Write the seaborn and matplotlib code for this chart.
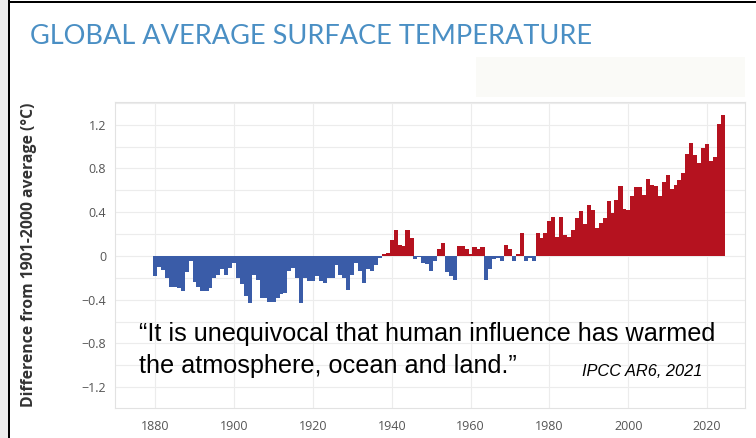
import numpy as np
import pandas as pd
import matplotlib
matplotlib.use("Agg")
import matplotlib.pyplot as plt
import seaborn as sns
from matplotlib.patches import Rectangle
from matplotlib.ticker import FixedLocator

# Annual global surface temperature anomaly (°C, relative to 1901-2000)
years = list(range(1880, 2025))
anomaly = [
    -0.18, -0.10, -0.13, -0.20, -0.28, -0.28, -0.29, -0.32, -0.15, -0.05,  # 1880s
    -0.24, -0.28, -0.32, -0.32, -0.29, -0.20, -0.17, -0.12, -0.17, -0.11,  # 1890s
    -0.06, -0.20, -0.26, -0.37, -0.43, -0.17, -0.22, -0.38, -0.38, -0.42,  # 1900s
    -0.42, -0.38, -0.35, -0.34, -0.14, -0.11, -0.20, -0.43, -0.20, -0.23,  # 1910s
    -0.23, -0.18, -0.23, -0.25, -0.20, -0.20, -0.08, -0.17, -0.20, -0.31,  # 1920s
    -0.17, -0.06, -0.14, -0.25, -0.12, -0.14, -0.08, -0.02, 0.02, 0.03,    # 1930s
    0.15, 0.24, 0.10, 0.09, 0.24, 0.16, -0.03, -0.01, -0.06, -0.07,       # 1940s
    -0.14, -0.05, 0.06, 0.12, -0.15, -0.18, -0.22, 0.09, 0.09, 0.06,      # 1950s
    0.02, 0.08, 0.06, 0.08, -0.22, -0.12, -0.03, -0.02, -0.05, 0.10,      # 1960s
    0.06, -0.05, 0.02, 0.21, -0.05, -0.02, -0.05, 0.21, 0.16, 0.21,       # 1970s
    0.32, 0.36, 0.17, 0.36, 0.19, 0.17, 0.24, 0.35, 0.41, 0.29,           # 1980s
    0.47, 0.42, 0.26, 0.30, 0.35, 0.50, 0.39, 0.51, 0.64, 0.43,           # 1990s
    0.42, 0.55, 0.63, 0.63, 0.56, 0.70, 0.65, 0.64, 0.55, 0.68,           # 2000s
    0.74, 0.61, 0.65, 0.69, 0.76, 0.93, 1.03, 0.92, 0.85, 0.99,           # 2010s
    1.02, 0.87, 0.90, 1.21, 1.29,                                         # 2020s
]

x_ticks = [1880, 1900, 1920, 1940, 1960, 1980, 2000, 2020]
y_ticks = [-1.2, -0.8, -0.4, 0.0, 0.4, 0.8, 1.2]
y_tick_labels = ["\u22121.2", "\u22120.8", "\u22120.4", "0", "0.4", "0.8", "1.2"]

title_text = "GLOBAL AVERAGE SURFACE TEMPERATURE"
y_label = "Difference from 1901-2000 average (\u00b0C)"
quote_line1 = "\u201cIt is unequivocal that human influence has warmed"
quote_line2 = "the atmosphere, ocean and land.\u201d"
source_text = "IPCC AR6, 2021"

BLUE = "#3a5ca8"
RED = "#b5121f"

df = pd.DataFrame({"year": years, "anomaly": anomaly})
df["sign"] = np.where(df["anomaly"] >= 0, "warm", "cool")

sns.set_theme(style="white")
plt.rcParams["font.family"] = ["Open Sans", "DejaVu Sans"]

W, H = 756, 438
fig = plt.figure(figsize=(W / 100, H / 100), dpi=100)
fig.patch.set_facecolor("white")

# outer frame: grey strip at left, black border lines
fig.add_artist(Rectangle((0, 0), 8 / W, 1, transform=fig.transFigure,
                         facecolor="#ececec", edgecolor="none", zorder=0))
fig.add_artist(Rectangle((8 / W, 0), 2 / W, 1, transform=fig.transFigure,
                         facecolor="black", edgecolor="none", zorder=5))
fig.add_artist(Rectangle((8 / W, 1 - 3 / H), 1, 2 / H, transform=fig.transFigure,
                         facecolor="black", edgecolor="none", zorder=5))

ax_l, ax_r, ax_t, ax_b = 114.6, 745.0, 101.7, 408.0
ax = fig.add_axes([ax_l / W, 1 - ax_b / H, (ax_r - ax_l) / W, (ax_b - ax_t) / H])

sns.barplot(data=df, x="year", y="anomaly", hue="sign",
            palette={"cool": BLUE, "warm": RED}, native_scale=True,
            width=1.0, dodge=False, legend=False, saturation=1,
            linewidth=0, ax=ax)
# let neighbouring years touch so the series reads as one stepped area
for p in ax.patches:
    centre = p.get_x() + p.get_width() / 2
    p.set_width(1.06)
    p.set_x(centre - 0.53)
    p.set_linewidth(0)
    p.set_antialiased(False)

ax.set_xlim(1869.7, 2029.6)
ax.set_ylim(-1.39, 1.41)
ax.xaxis.set_major_locator(FixedLocator(x_ticks))
ax.yaxis.set_major_locator(FixedLocator(y_ticks))
ax.yaxis.set_minor_locator(FixedLocator([-1.4, -1.0, -0.6, -0.2, 0.2, 0.6, 1.0, 1.4]))
ax.set_yticklabels(y_tick_labels)
ax.set_xticklabels([str(t) for t in x_ticks])
ax.grid(which="both", color="#ececec", linewidth=0.8)
ax.set_axisbelow(True)
ax.tick_params(axis="both", which="both", length=0, labelsize=9,
               labelcolor="#555555", pad=9)
ax.tick_params(axis="y", pad=6)
ax.set_xlabel("")
ax.set_ylabel(y_label, fontsize=11.3, fontweight="bold", color="#333333")
ax.yaxis.set_label_coords((37 - ax_l) / (ax_r - ax_l), 0.5)
for s in ax.spines.values():
    s.set_color("#e2e2e2")
    s.set_linewidth(0.8)

fig.text(30 / W, 1 - 37 / H, title_text, fontsize=19.5, color="#4a8fc4",
         family=["Lato", "DejaVu Sans"], va="center", ha="left")

# blank panel at top right
fig.add_artist(Rectangle((476 / W, 1 - 97 / H), 269 / W, 40 / H,
                         transform=fig.transFigure, facecolor="#fafaf7",
                         edgecolor="none", zorder=3))

quote_kw = dict(fontsize=18.2, color="black", family=["Liberation Sans", "DejaVu Sans"],
                va="center", ha="left", zorder=6)
fig.text(139 / W, 1 - 334 / H, quote_line1, **quote_kw)
fig.text(139 / W, 1 - 366 / H, quote_line2, **quote_kw)
fig.text(582 / W, 1 - 372 / H, source_text, fontsize=11.8, color="black",
         style="italic", family=["Liberation Sans", "DejaVu Sans"],
         va="center", ha="left", zorder=6)

fig.savefig("out.png", dpi=100)
